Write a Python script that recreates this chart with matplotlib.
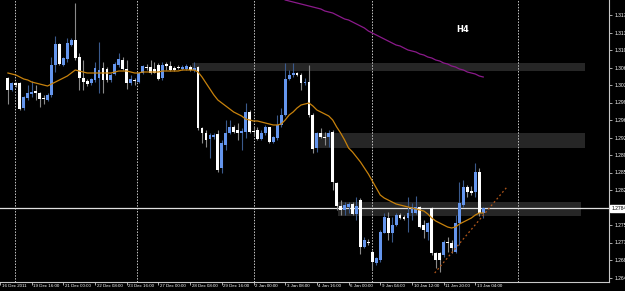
import matplotlib
matplotlib.use('Agg')
import matplotlib.pyplot as plt
import numpy as np

# H4 candles, 121 bars, prices
opens = [1.3044, 1.3020, 1.3034, 1.3034, 1.2984, 1.3004, 1.3012, 1.3018, 1.3014, 1.3004,
         1.3000, 1.3010, 1.3070, 1.3112, 1.3070, 1.3082, 1.3110, 1.3120, 1.3086, 1.3044,
         1.3038, 1.3034, 1.3040, 1.3044, 1.3064, 1.3062, 1.3040, 1.3052, 1.3070, 1.3080,
         1.3062, 1.3034, 1.3040, 1.3036, 1.3054, 1.3066, 1.3066, 1.3062, 1.3070, 1.3044,
         1.3072, 1.3068, 1.3064, 1.3066, 1.3062, 1.3062, 1.3066, 1.3060, 1.3066, 1.2944,
         1.2934, 1.2922, 1.2926, 1.2932, 1.2864, 1.2910, 1.2934, 1.2946, 1.2940, 1.2934,
         1.2936, 1.2976, 1.2938, 1.2940, 1.2922, 1.2934, 1.2946, 1.2916, 1.2924, 1.2950,
         1.2970, 1.3042, 1.3050, 1.3054, 1.3050, 1.3034, 1.3036, 1.2970, 1.2904, 1.2934,
         1.2926, 1.2926, 1.2936, 1.2834, 1.2788, 1.2780, 1.2786, 1.2792, 1.2772, 1.2800,
         1.2706, 1.2716, 1.2696, 1.2674, 1.2680, 1.2734, 1.2764, 1.2734, 1.2750, 1.2770,
         1.2766, 1.2764, 1.2774, 1.2774, 1.2786, 1.2750, 1.2736, 1.2784, 1.2694, 1.2694,
         1.2690, 1.2716, 1.2714, 1.2696, 1.2754, 1.2790, 1.2826, 1.2818, 1.2816, 1.2856, 1.2774]
closes = [1.3020, 1.3034, 1.3030, 1.2982, 1.3006, 1.3014, 1.3016, 1.3014, 1.3002, 1.3002,
          1.3010, 1.3070, 1.3112, 1.3072, 1.3084, 1.3114, 1.3120, 1.3084, 1.3044, 1.3036,
          1.3032, 1.3042, 1.3064, 1.3060, 1.3040, 1.3040, 1.3050, 1.3072, 1.3082, 1.3062,
          1.3034, 1.3042, 1.3038, 1.3054, 1.3068, 1.3064, 1.3054, 1.3054, 1.3042, 1.3070,
          1.3068, 1.3060, 1.3060, 1.3064, 1.3066, 1.3068, 1.3060, 1.3064, 1.2944, 1.2934,
          1.2920, 1.2930, 1.2930, 1.2860, 1.2914, 1.2934, 1.2946, 1.2936, 1.2934, 1.2938,
          1.2976, 1.2936, 1.2936, 1.2922, 1.2934, 1.2946, 1.2916, 1.2926, 1.2950, 1.2970,
          1.3042, 1.3050, 1.3054, 1.3050, 1.3034, 1.3036, 1.2970, 1.2902, 1.2934, 1.2926,
          1.2924, 1.2934, 1.2836, 1.2788, 1.2780, 1.2790, 1.2792, 1.2772, 1.2788, 1.2706,
          1.2720, 1.2714, 1.2676, 1.2684, 1.2736, 1.2766, 1.2734, 1.2750, 1.2770, 1.2764,
          1.2762, 1.2774, 1.2786, 1.2786, 1.2746, 1.2740, 1.2754, 1.2694, 1.2680, 1.2680,
          1.2716, 1.2714, 1.2704, 1.2754, 1.2794, 1.2826, 1.2816, 1.2814, 1.2856, 1.2774, 1.2784]
highs = [1.3046, 1.3036, 1.3036, 1.3036, 1.3008, 1.3030, 1.3038, 1.3030, 1.3016, 1.3010,
         1.3014, 1.3086, 1.3128, 1.3114, 1.3086, 1.3124, 1.3124, 1.3194, 1.3094, 1.3080,
         1.3042, 1.3044, 1.3076, 1.3116, 1.3076, 1.3066, 1.3054, 1.3076, 1.3094, 1.3086,
         1.3080, 1.3050, 1.3044, 1.3056, 1.3070, 1.3072, 1.3080, 1.3076, 1.3074, 1.3076,
         1.3076, 1.3078, 1.3068, 1.3070, 1.3070, 1.3072, 1.3070, 1.3076, 1.3068, 1.2946,
         1.2940, 1.2934, 1.2934, 1.2940, 1.2920, 1.2960, 1.2960, 1.2950, 1.2954, 1.2944,
         1.2994, 1.2980, 1.2946, 1.2946, 1.2940, 1.2950, 1.2946, 1.2928, 1.2970, 1.2984,
         1.3074, 1.3060, 1.3074, 1.3056, 1.3054, 1.3044, 1.3070, 1.2974, 1.2936, 1.2944,
         1.2936, 1.2940, 1.2940, 1.2836, 1.2800, 1.2796, 1.2796, 1.2796, 1.2806, 1.2804,
         1.2726, 1.2722, 1.2700, 1.2686, 1.2740, 1.2774, 1.2776, 1.2766, 1.2774, 1.2774,
         1.2770, 1.2806, 1.2794, 1.2808, 1.2788, 1.2760, 1.2756, 1.2786, 1.2696, 1.2696,
         1.2720, 1.2726, 1.2720, 1.2770, 1.2836, 1.2840, 1.2830, 1.2828, 1.2874, 1.2864, 1.2786]
lows = [1.2992, 1.3018, 1.3026, 1.2980, 1.2980, 1.3000, 1.3006, 1.3000, 1.2986, 1.2992,
        1.2998, 1.3006, 1.3056, 1.3070, 1.3068, 1.3076, 1.3108, 1.3080, 1.3020, 1.3020,
        1.3028, 1.3030, 1.3036, 1.3014, 1.3014, 1.3036, 1.3036, 1.3050, 1.3066, 1.3060,
        1.3022, 1.3030, 1.3030, 1.3034, 1.3052, 1.3060, 1.3052, 1.3054, 1.3040, 1.3040,
        1.3060, 1.3058, 1.3058, 1.3062, 1.3060, 1.3060, 1.3058, 1.3056, 1.2940, 1.2914,
        1.2906, 1.2884, 1.2922, 1.2856, 1.2854, 1.2900, 1.2932, 1.2934, 1.2920, 1.2900,
        1.2924, 1.2934, 1.2928, 1.2920, 1.2920, 1.2930, 1.2914, 1.2914, 1.2920, 1.2946,
        1.2968, 1.3040, 1.3046, 1.3048, 1.3020, 1.3030, 1.2966, 1.2894, 1.2896, 1.2924,
        1.2910, 1.2906, 1.2820, 1.2780, 1.2770, 1.2770, 1.2774, 1.2770, 1.2760, 1.2692,
        1.2704, 1.2710, 1.2660, 1.2670, 1.2676, 1.2734, 1.2720, 1.2716, 1.2748, 1.2762,
        1.2760, 1.2736, 1.2760, 1.2772, 1.2744, 1.2724, 1.2720, 1.2690, 1.2664, 1.2656,
        1.2686, 1.2696, 1.2694, 1.2694, 1.2710, 1.2786, 1.2806, 1.2810, 1.2806, 1.2768, 1.2764]

# short moving average (orange), one value per bar
ma_fast = [1.3054, 1.3052, 1.3050, 1.3046, 1.3042, 1.3040, 1.3036, 1.3034, 1.3032, 1.3030,
           1.3028, 1.3032, 1.3036, 1.3040, 1.3044, 1.3048, 1.3054, 1.3060, 1.3058, 1.3056,
           1.3054, 1.3054, 1.3054, 1.3054, 1.3054, 1.3054, 1.3054, 1.3056, 1.3058, 1.3058,
           1.3058, 1.3056, 1.3054, 1.3054, 1.3056, 1.3056, 1.3056, 1.3056, 1.3056, 1.3058,
           1.3058, 1.3058, 1.3058, 1.3058, 1.3060, 1.3060, 1.3060, 1.3060, 1.3056, 1.3046,
           1.3034, 1.3022, 1.3010, 1.3000, 1.2994, 1.2988, 1.2982, 1.2976, 1.2972, 1.2968,
           1.2962, 1.2960, 1.2958, 1.2958, 1.2956, 1.2954, 1.2952, 1.2950, 1.2950, 1.2952,
           1.2960, 1.2970, 1.2976, 1.2984, 1.2990, 1.2992, 1.2994, 1.2988, 1.2980, 1.2976,
           1.2972, 1.2968, 1.2960, 1.2946, 1.2934, 1.2920, 1.2904, 1.2896, 1.2886, 1.2876,
           1.2864, 1.2852, 1.2838, 1.2824, 1.2810, 1.2804, 1.2800, 1.2796, 1.2792, 1.2790,
           1.2788, 1.2786, 1.2784, 1.2782, 1.2780, 1.2778, 1.2772, 1.2764, 1.2758, 1.2754,
           1.2750, 1.2746, 1.2744, 1.2746, 1.2752, 1.2756, 1.2760, 1.2764, 1.2770, 1.2774, 1.2774]

# long moving average (purple), visible from bar 70 on
ma_slow_start = 70
ma_slow = [1.3200, 1.3198, 1.3196, 1.3194, 1.3192, 1.3190, 1.3188, 1.3186, 1.3184, 1.3182,
           1.3178, 1.3176, 1.3174, 1.3170, 1.3166, 1.3162, 1.3160, 1.3156, 1.3152, 1.3148,
           1.3144, 1.3138, 1.3134, 1.3130, 1.3126, 1.3122, 1.3118, 1.3114, 1.3110, 1.3108,
           1.3104, 1.3100, 1.3098, 1.3096, 1.3092, 1.3090, 1.3086, 1.3084, 1.3080, 1.3078,
           1.3074, 1.3072, 1.3068, 1.3066, 1.3062, 1.3060, 1.3056, 1.3054, 1.3052, 1.3048, 1.3046]

# support / resistance zones: (start bar, end bar, top, bottom)
zone_start = [46.5, 77.0, 83.25]
zone_end = [145.75, 145.75, 144.75]
zone_top = [1.3074, 1.2934, 1.2796]
zone_bottom = [1.3058, 1.2904, 1.2768]

# dotted trend line (bar, price)
trend_x = [107.75, 126.0]
trend_y = [1.2654, 1.2826]

# period separators (bar positions)
separators = [1.75, 32.5, 62.25, 92.0, 128.75]

date_ticks = [-2, 6, 14, 22, 30, 38, 46, 54, 62, 70, 78, 86, 94, 102, 110, 118]
date_labels = ['16 Dec 2011', '19 Dec 16:00', '21 Dec 00:00', '22 Dec 08:00', '23 Dec 16:00',
               '27 Dec 00:00', '28 Dec 08:00', '29 Dec 16:00', '2 Jan 00:00', '3 Jan 08:00',
               '4 Jan 16:00', '6 Jan 00:00', '9 Jan 04:00', '10 Jan 12:00', '11 Jan 20:00',
               '13 Jan 04:00']
# 1.2785 sits under the current-price marker, so it is not listed
price_ticks = [1.3170, 1.3135, 1.3100, 1.3065, 1.3030, 1.2995, 1.2960, 1.2925, 1.2890,
               1.2855, 1.2820, 1.2750, 1.2715, 1.2680, 1.2645]

BULL = '#6495ED'
BULL_WICK = '#3a5a8c'
BEAR = '#ffffff'
BEAR_WICK = '#8a8a8a'
AXIS = '#c8c8c8'
FONT = ['Liberation Sans', 'DejaVu Sans']

fig = plt.figure(figsize=(6.25, 2.91), dpi=100, facecolor='black')
ax = fig.add_axes([0, 9 / 291, 609 / 625, 282 / 291])
ax.set_facecolor('black')
ax.set_xlim(-0.5, 151.75)
ax.set_ylim(1.2636, 1.3200)

for xs, xe, t, b in zip(zone_start, zone_end, zone_top, zone_bottom):
    ax.fill_between([xs, xe], b, t, color='#262626', lw=0, zorder=1)

for s in separators:
    ax.axvline(s, color=AXIS, ls=(0, (1.5, 1.5)), lw=0.7, zorder=1.5)

ax.axhline(closes[-1], color='#e0e0e0', lw=0.9, zorder=2.5)

o = np.array(opens)
c = np.array(closes)
h = np.array(highs)
l = np.array(lows)
x = np.arange(len(o))
bull = c >= o
ax.vlines(x[bull], l[bull], h[bull], color=BULL_WICK, lw=0.8, zorder=3)
ax.vlines(x[~bull], l[~bull], h[~bull], color=BEAR_WICK, lw=0.8, zorder=3)
body_h = np.maximum(np.abs(c - o), 0.0002)
body_b = np.minimum(o, c)
ax.bar(x, body_h, bottom=body_b, width=0.72,
       color=np.where(bull, BULL, BEAR), lw=0, zorder=3.5)

ax.plot(x, ma_fast, color='#c8820c', lw=0.9, zorder=4)
ax.plot(np.arange(ma_slow_start, ma_slow_start + len(ma_slow)), ma_slow,
        color='#8b1a8b', lw=0.9, zorder=4)
ax.plot(trend_x, trend_y, color='#b0561a', lw=0.9, ls=(0, (1.5, 2)), zorder=4)

ax.text(114.75, 1.3140, 'H4', color='white', fontsize=6, fontweight='bold',
        ha='center', va='center', zorder=5)

# axes frame like the terminal
for side in ['left', 'top']:
    ax.spines[side].set_visible(False)
for side in ['right', 'bottom']:
    ax.spines[side].set_color(AXIS)
    ax.spines[side].set_linewidth(0.8)

ax.yaxis.tick_right()
ax.set_yticks(price_ticks)
ax.set_yticklabels(['%.4f' % p for p in price_ticks], fontsize=3.6, color='white', family=FONT)
ax.tick_params(axis='y', colors=AXIS, length=2.5, width=0.6, pad=1.5, labelcolor='white')

ax.set_xticks(date_ticks)
ax.set_xticklabels([])
ax.tick_params(axis='x', colors=AXIS, length=2.5, width=0.6)
for t, lab in zip(date_ticks, date_labels):
    ax.text(t + 0.4, -0.006, lab, transform=ax.get_xaxis_transform(), color='white',
            fontsize=3.2, family=FONT, ha='left', va='top', clip_on=False)

# current price marker on the price scale
ax.text(1.004, closes[-1], '%.4f' % closes[-1], transform=ax.get_yaxis_transform(),
        color='black', fontsize=3.6, family=FONT, ha='left', va='center',
        bbox=dict(boxstyle='square,pad=0.2', fc='white', ec='white'), clip_on=False, zorder=6)

fig.savefig('out.png', dpi=100, facecolor='black')
